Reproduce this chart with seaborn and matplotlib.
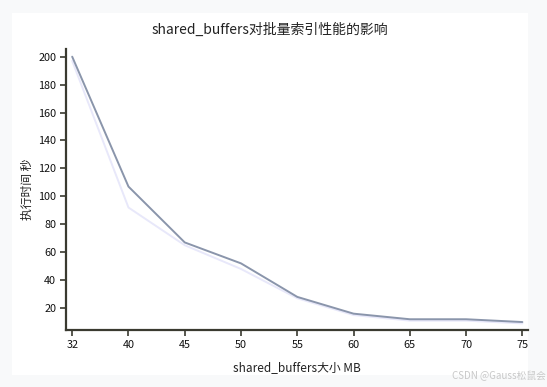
import matplotlib
matplotlib.use("Agg")
import matplotlib.pyplot as plt
import seaborn as sns
import pandas as pd
from matplotlib.patches import Rectangle

categories = ["32", "40", "45", "50", "55", "60", "65", "70", "75"]
series_a = [200, 107, 67, 52, 28, 16, 12, 12, 10]
series_b = [197, 92, 65, 48, 27, 15, 11, 11, 9]
y_ticks = [20, 40, 60, 80, 100, 120, 140, 160, 180, 200]

sns.set_theme(style="white")
plt.rcParams['font.family'] = ['Noto Sans CJK SC', 'DejaVu Sans']

df = pd.DataFrame({
    "size": categories * 2,
    "time": series_a + series_b,
    "series": ["a"] * len(categories) + ["b"] * len(categories),
})

fig = plt.figure(figsize=(5.47, 3.87), dpi=100)
fig.patch.set_facecolor("#f8f9fa")
fig.patches.append(Rectangle((12 / 547, 1 - 375 / 387), (528 - 12) / 547, (375 - 13) / 387,
                             transform=fig.transFigure, facecolor="white", edgecolor="none", zorder=-10))
ax = fig.add_axes([66 / 547, 1 - 330 / 387, (528 - 66) / 547, (330 - 49) / 387])
ax.set_zorder(5)
ax.set_facecolor("none")

sns.lineplot(data=df, x="size", y="time", hue="series",
             palette={"a": "#8a95ab", "b": "#e8e8fa"}, hue_order=["b", "a"],
             linewidth=1.4, legend=False, ax=ax, sort=False)

ax.set_xlim(-0.11, 8.1)
ax.set_ylim(4.3, 205.5)
ax.set_yticks(y_ticks)
ax.set_yticklabels([str(v) for v in y_ticks])
for s in ["top", "right"]:
    ax.spines[s].set_visible(False)
for s in ["left", "bottom"]:
    ax.spines[s].set_color("#3a3a30")
    ax.spines[s].set_linewidth(1.6)
ax.tick_params(axis="both", direction="out", length=4, width=1.2, color="#3a3a30",
               labelsize=7.8, labelcolor="#111111", pad=3, left=True, bottom=True)

ax.set_xlabel("shared_buffers大小 MB", fontsize=8.5, color="#222222", labelpad=8)
ax.set_ylabel("执行时间 秒", fontsize=8.5, color="#222222", labelpad=3)
fig.text(270 / 547, 1 - 30 / 387, "shared_buffers对批量索引性能的影响", ha="center", va="center",
         fontsize=10, color="#222222")
fig.text(546 / 547, 1 - 376 / 387, "CSDN @Gauss松鼠会", ha="right", va="center",
         fontsize=7, color="#c8c8c8")

fig.savefig("out.png", dpi=100, facecolor=fig.get_facecolor())
